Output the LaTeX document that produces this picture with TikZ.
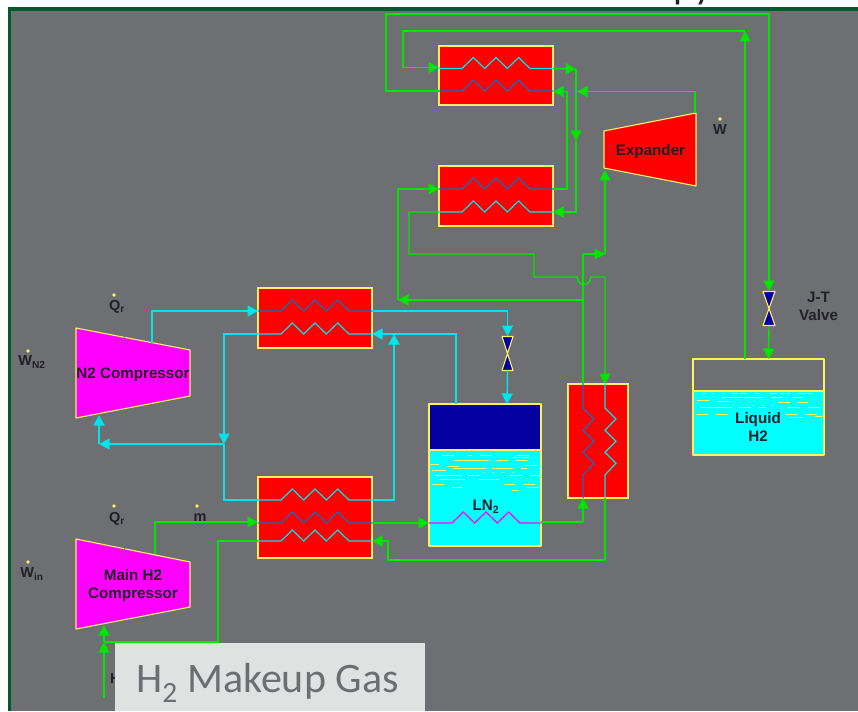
\documentclass[tikz,border=0pt]{standalone}
\usepackage{fontspec}
\setmainfont{Liberation Sans}
\newfontfamily\slidefont{Carlito}
\usetikzlibrary{arrows.meta}
\definecolor{PFGray}{RGB}{110,111,115}
\definecolor{PFFrame}{RGB}{0,90,45}
\definecolor{PFGreen}{RGB}{0,230,0}
\definecolor{PFCyan}{RGB}{0,228,235}
\definecolor{PFLiquid}{RGB}{0,255,255}
\definecolor{PFMagenta}{RGB}{255,0,255}
\definecolor{PFRed}{RGB}{255,0,0}
\definecolor{PFBlue}{RGB}{20,110,190}
\definecolor{PFNavy}{RGB}{5,0,160}
\definecolor{PFYellow}{RGB}{255,240,100}
\definecolor{PFInk}{RGB}{35,32,40}
\definecolor{PFBox}{RGB}{224,226,225}
\definecolor{PFText}{RGB}{108,110,113}
\newcommand{\coilh}[4]{%
  \draw[coil, #4] (#1,#3) -- ++(23,0) -- ++(11.33,-11) -- ++(11.33,11) -- ++(11.33,-11)
    -- ++(11.33,11) -- ++(11.33,-11) -- ++(11.33,11) -- (#2,#3);}
\newcommand{\coilv}[4]{%
  \draw[coil, #4] (#1,#2) -- ++(0,24) -- ++(11,10.9) -- ++(-11,11.3) -- ++(11,11)
    -- ++(-11,11) -- ++(11,11) -- ++(-11,11.8) -- (#1,#3);}
\begin{document}
\begin{tikzpicture}[x=1pt, y=-1pt,
    hxbox/.style={rectangle, draw=PFYellow, fill=PFRed, line width=1.1pt, inner sep=0pt, outer sep=0pt},
    unit/.style={draw=PFYellow, line width=1.1pt, line join=round},
    coil/.style={line width=1.2pt, line join=miter},
    arr/.style={-{Triangle[length=10.5pt,width=11pt]}, line width=1.4pt},
    pipe/.style={line width=1.4pt},
    lbl/.style={font=\fontsize{15.2}{18}\selectfont\bfseries, text=PFInk, align=center, inner sep=0pt},
    sym/.style={font=\fontsize{14.5}{16}\selectfont\bfseries, text=PFInk, inner sep=0pt},
    dotmark/.style={circle, fill=PFYellow, inner sep=0pt, minimum size=3.8pt},
    streak/.style={draw=PFYellow, line width=0.9pt}
  ]
  \useasboundingbox (0,0) rectangle (858,711);

  %--- Background ---
  \node[anchor=base west, inner sep=0pt, font=\slidefont\fontsize{40}{44}\selectfont, text=PFInk] (title) at (673,-1.5) {py};
  \fill[white] (0,7) rectangle (858,711);
  \fill[PFFrame] (8,7) rectangle (858,711);
  \fill[PFGray] (11,11) rectangle (858,711);

  %--- Heat exchangers ---
  \node[hxbox, minimum width=114, minimum height=59] (hxa) at (496,75.5) {};
  \node[hxbox, minimum width=114, minimum height=60] (hxb) at (496,196) {};
  \node[hxbox, minimum width=114, minimum height=60] (hxc) at (315,318) {};
  \node[hxbox, minimum width=114, minimum height=81] (hxd) at (315,517.5) {};
  \node[hxbox, minimum width=60, minimum height=114] (hxe) at (598,441) {};
  \coilh{439}{553}{68.5}{PFCyan}
  \coilh{439}{553}{91}{PFBlue}
  \coilh{439}{553}{189}{PFBlue}
  \coilh{439}{553}{212}{PFCyan}
  \coilh{258}{372}{311}{PFBlue}
  \coilh{258}{372}{334}{PFCyan}
  \coilh{258}{372}{500}{PFCyan}
  \coilh{258}{372}{523}{PFBlue}
  \coilh{258}{372}{541}{PFCyan}
  \coilv{583}{384}{498}{PFBlue}
  \coilv{605}{384}{498}{PFCyan}

  %--- Machines ---
  \draw[unit, fill=PFMagenta] (76,328) -- (190,350) -- (190,396) -- (76,418) -- cycle;
  \draw[unit, fill=PFMagenta] (76,539) -- (190,562) -- (190,607) -- (76,629) -- cycle;
  \draw[unit, fill=PFRed] (604,131) -- (696,113) -- (696,186) -- (604,168) -- cycle;
  \draw[PFText, line width=0.7pt] (122,345) -- (125,337);
  \draw[PFText, line width=0.7pt] (122,556) -- (125,548);
  \node[lbl] (n2comp) at (133,374.5) {N2 Compressor};
  \node[lbl] (h2comp) at (133,586) {Main H2\\Compressor};
  \node[lbl] (expander) at (650.5,151.5) {Expander};

  %--- Tanks ---
  \fill[PFLiquid] (429,450) rectangle (541,546);
  \fill[PFNavy] (429,404) rectangle (541,450);
  \foreach \xa/\xb/\y in {442/454/455, 468/472/455, 480/492/455, 517/529/455, 513/529/457,
      454/489/460, 496/508/460, 516/527/460, 430/439/464, 447/459/466, 525/537/465,
      453/486/468, 492/513/468, 521/527/468, 432/446/470, 484/485/472, 493/494/472,
      502/503/472, 512/513/472, 435/462/475, 468/480/475, 510/522/475, 530/540/475,
      439/465/479, 479/499/479, 432/444/484, 504/515/484, 523/535/484, 452/462/487,
      527/539/487, 512/518/490}
    \draw[streak] (\xa,\y) -- (\xb,\y);
  \draw[unit, line width=1.4pt] (429,404) rectangle (541,546);
  \draw[unit, line width=1.8pt] (429,450) -- (541,450);
  \coilh{429}{541}{523}{PFMagenta}
  \node[lbl] (lntwo) at (486,507) {LN\textsubscript{2}};

  \fill[PFLiquid] (693,391) rectangle (824,455);
  \foreach \xa/\xb/\y in {703/705/393, 712/713/393, 722/723/393, 732/738/393, 740/747/393,
      755/760/393, 770/777/393, 780/790/393, 798/812/393, 722/763/397, 772/783/397,
      792/803/397, 697/709/400, 717/729/401, 778/790/402, 798/808/402, 753/754/405,
      762/763/405, 772/773/405, 700/732/407, 739/751/407, 759/766/407, 788/800/407,
      808/820/407, 696/708/414, 716/728/414, 786/797/414, 806/817/414, 815/822/416,
      791/803/417}
    \draw[streak] (\xa,\y) -- (\xb,\y);
  \draw[unit] (693,359) rectangle (824,455);
  \draw[unit] (693,391) -- (824,391);
  \node[lbl] (liquid) at (758,427) {Liquid\\H2};

  %--- Valves ---
  \foreach \name/\vx/\vy/\vw in {lnvalve/507.5/353.5/5.5, jtvalve/769/308.5/6} {
    \coordinate (\name) at (\vx,\vy);
    \draw[unit, fill=PFNavy] (\name) -- ++(-\vw,-17) -- ++(2*\vw,0) -- cycle;
    \draw[unit, fill=PFNavy] (\name) -- ++(-\vw,17) -- ++(2*\vw,0) -- cycle;
  }
  \node[lbl] (jtlabel) at (818.5,306) {J-T\\Valve};

  %--- Ports ---
  \coordinate (lnin) at (507,404);
  \coordinate (lnout) at (456,404);
  \coordinate (lhin) at (768.5,359);
  \coordinate (lhout) at (745,359);
  \coordinate (n2out) at (152,343);
  \coordinate (n2in) at (99,415);
  \coordinate (h2out) at (155,554);
  \coordinate (h2in) at (104,625);
  \coordinate (expin) at (605,170);
  \coordinate (expout) at (695,113);
  \coordinate (feed) at (104,698);
  \coordinate (jna) at (576,69);
  \coordinate (jnb) at (577,91.5);
  \coordinate (jnc) at (224,444);
  \coordinate (jnd) at (99,444);
  \coordinate (jne) at (104,642);
  \coordinate (jnf) at (605,254);
  \coordinate (jng) at (583,254);
  \coordinate (jnh) at (398,300);
  \coordinate (jni) at (583,300);
  \coordinate (jnj) at (745,31);
  \coordinate (jnk) at (394,334);

  %--- Nitrogen loop ---
  \draw[arr, PFCyan] (n2out) |- (hxc.west |- 0,311);
  \draw[arr, PFCyan] (hxc.east |- 0,311) -| (lnvalve |- 0,336);
  \draw[arr, PFCyan] (lnvalve |- 0,370.5) -- (lnin);
  \draw[arr, PFCyan] (lnout) |- (hxc.east |- 0,334);
  \draw[arr, PFCyan] (hxd.east |- 0,500) -| (jnk);
  \draw[arr, PFCyan] (hxc.west |- 0,334) -| (jnc);
  \draw[pipe, PFCyan] (jnc) |- (hxd.west |- 0,500);
  \draw[arr, PFCyan] (jnc) -- (jnd);
  \draw[arr, PFCyan, line width=1.7pt] (jnd) -- (n2in);

  %--- Hydrogen lines ---
  \draw[arr, PFGreen] (h2out) |- (hxd.west |- 0,522);
  \draw[arr, PFGreen] (feed) -- (jne);
  \draw[arr, PFGreen] (jne) -- (h2in);
  \draw[pipe, PFGreen, line width=1.7pt] (hxd.west |- 0,541) -| (218,642) -- (jne);
  \draw[arr, PFGreen] (hxd.east |- 0,523) -- (429,523);
  \draw[pipe, PFGreen] (541,522) -- (583,522);
  \draw[arr, PFGreen] (583,522) -- (hxe.south -| 583,0);
  \draw[pipe, PFGreen] (hxe.north -| 583,0) -- (jng);
  \draw[arr, PFGreen] (jng) -- (jnf);
  \draw[arr, PFGreen] (jnf) -- (expin);
  \draw[arr, PFGreen] (jni) -- (jnh);
  \draw[arr, PFGreen] (jnh) |- (hxb.west |- 0,189);
  \draw[arr, PFGreen] (hxb.west |- 0,212) -| (409,254) -| (534,277) -- (577,277)
    .. controls (578,287) and (590,287) .. (591,277) -- (605,277) -- (hxe.north -| 605,0);
  \draw[arr, PFGreen, line width=1.7pt] (605,498) |- (388,560) |- (hxd.east |- 0,541);
  \draw[arr, PFGreen, line width=1.7pt] (hxa.east |- 0,68.5) -- (jna);
  \draw[arr, PFGreen] (jna) -- (576,141);
  \draw[arr, PFGreen] (576,141) |- (hxb.east |- 0,212);
  \draw[arr, PFGreen] (expout) |- (jnb);
  \draw[arr, PFGreen] (hxb.east |- 0,189) -| (567,91.5) -- (hxa.east |- 0,91.5);
  \draw[arr, PFGreen] (hxa.west |- 0,91) -| (386,14) -| (jtvalve |- 0,291);
  \draw[arr, PFGreen] (jtvalve |- 0,326) -- (lhin);
  \draw[arr, PFGreen] (lhout) -- (jnj);
  \draw[arr, PFGreen] (jnj) -| (403,67.5) -- (hxa.west |- 0,67.5);

  %--- Symbols ---
  \node[sym] (qone) at (117,306.5) {Q\textsubscript{r}};
  \node[dotmark] (qonedot) at (114,295) {};
  \node[sym] (qtwo) at (117,518.5) {Q\textsubscript{r}};
  \node[dotmark] (qtwodot) at (114,506) {};
  \node[sym] (wntwo) at (32,362) {W\textsubscript{N2}};
  \node[dotmark] (wntwodot) at (28,351) {};
  \node[sym] (win) at (32,574) {W\textsubscript{in}};
  \node[dotmark] (windot) at (28,562) {};
  \node[sym] (mflow) at (200,518) {m};
  \node[dotmark] (mflowdot) at (197,506) {};
  \node[sym] (wexp) at (720,130) {W};
  \node[dotmark] (wexpdot) at (720,119) {};

  %--- Makeup gas label ---
  \node[sym, anchor=west] (hfeed) at (110,679) {H};
  \node[rectangle, fill=PFBox, inner sep=0pt, minimum width=310, minimum height=68] (makeup) at (270,677) {};
  \node[anchor=west, inner sep=0pt, font=\slidefont\fontsize{42}{46}\selectfont, text=PFText] (makeuptxt) at (136,683) {H\textsubscript{2} Makeup Gas};
\end{tikzpicture}
\end{document}
